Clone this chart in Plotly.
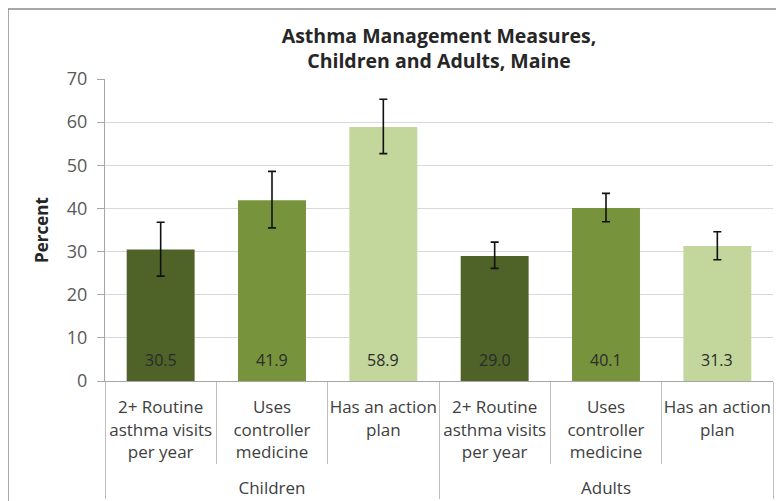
import plotly.graph_objects as go

groups = ["Children", "Children", "Children", "Adults", "Adults", "Adults"]
measures = ["2+ Routine<br>asthma visits<br>per year", "Uses<br>controller<br>medicine", "Has an action<br>plan",
            "2+ Routine<br>asthma visits<br>per year", "Uses<br>controller<br>medicine", "Has an action<br>plan"]
percent = [30.5, 41.9, 58.9, 29.0, 40.1, 31.3]
ci_low = [24.3, 35.5, 52.7, 26.1, 36.9, 28.1]
ci_high = [36.8, 48.6, 65.3, 32.2, 43.5, 34.6]
bar_colors = ["#4F6228", "#77933C", "#C3D69B", "#4F6228", "#77933C", "#C3D69B"]
y_ticks = [0, 10, 20, 30, 40, 50, 60, 70]

FONT = "Open Sans"
W, H = 776, 493          # page body has an 8px default margin
L, T, R, B = 97, 71, 11, 120
PW, PH = W - L - R, H - T - B

err_plus = [h - v for h, v in zip(ci_high, percent)]
err_minus = [v - l for l, v in zip(ci_low, percent)]

# group labels sit one text line lower than plotly's default
group_labels = ["<br>" + g for g in groups]

fig = go.Figure()
fig.add_trace(go.Bar(
    x=[group_labels, measures], y=percent,
    marker=dict(color=bar_colors, line=dict(width=0)),
    width=0.61,
    error_y=dict(type="data", symmetric=False, array=err_plus, arrayminus=err_minus,
                 color="#111111", thickness=1.6, width=4),
    hoverinfo="y",
))

annotations = []
for i, v in enumerate(percent):
    annotations.append(dict(
        x=i, y=0, xref="x", yref="y", text=f"{v:.1f}", showarrow=False,
        yanchor="bottom", yshift=8, font=dict(family=FONT, size=16, color="#2b2b2b")))

fig.update_layout(
    width=W, height=H,
    margin=dict(l=L, r=R, t=T, b=B, autoexpand=False),
    paper_bgcolor="white", plot_bgcolor="white",
    showlegend=False,
    title=dict(text="<b>Asthma Management Measures,<br>Children and Adults, Maine</b>",
               x=(L + PW / 2) / W, xanchor="center", yref="container", y=1 - 35 / H, yanchor="top",
               font=dict(family=FONT, size=19.5, color="#262626")),
    annotations=annotations,
    font=dict(family=FONT, color="#404040"),
)

fig.update_xaxes(
    type="multicategory", automargin=False, tickangle=0,
    showline=True, linecolor="#a6a6a6", linewidth=1,
    ticks="outside", tickson="boundaries", ticklen=82, tickcolor="#bfbfbf", tickwidth=1,
    ticklabelstandoff=11,
    showdividers=True, dividercolor="#bfbfbf", dividerwidth=1,
    tickfont=dict(family=FONT, size=17, color="#404040"),
    showgrid=False,
)
fig.update_yaxes(
    range=[0, 70], tickvals=y_ticks, automargin=False,
    showline=True, linecolor="#a6a6a6", linewidth=1,
    ticks="outside", ticklen=7, tickcolor="#a6a6a6", ticklabelstandoff=6,
    showgrid=True, gridcolor="#d9d9d9", gridwidth=1,
    tickfont=dict(family=FONT, size=18, color="#595959"),
    title=dict(text="<b>Percent</b>", font=dict(family=FONT, size=17, color="#262626"), standoff=13),
    zeroline=False,
)

# outer chart border
fig.add_shape(type="rect", xref="paper", yref="paper",
              x0=(0 - L) / PW, x1=(W + 20 - L) / PW,
              y0=-(H + 20 - T - PH) / PH, y1=(T + PH - 1) / PH,
              line=dict(color="#8c8c8c", width=1.5), layer="below")

fig.write_html("out.html")
